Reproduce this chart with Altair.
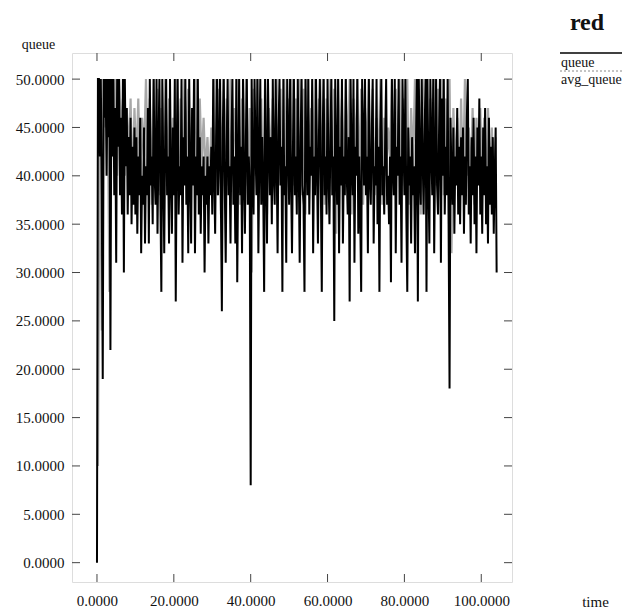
import altair as alt
import pandas as pd

# ---- data ----
# queue: one row per 5 time units, sampled every 0.25
queue_row_span = 5.0
queue_dt = 0.25
queue_rows = [
    [0, 50, 50, 42, 50, 38, 19, 50, 46, 50, 40, 50, 44, 50, 22, 50, 42, 50, 38, 47],
    [31, 50, 43, 50, 38, 46, 36, 50, 30, 50, 41, 47, 36, 44, 38, 46, 35, 43, 37, 45],
    [36, 44, 34, 42, 38, 46, 32, 40, 37, 45, 33, 41, 38, 47, 33, 50, 39, 42, 35, 50],
    [40, 37, 50, 34, 43, 50, 38, 28, 50, 41, 32, 44, 50, 38, 42, 33, 50, 40, 34, 45],
    [38, 50, 27, 43, 50, 36, 41, 38, 50, 31, 44, 39, 50, 37, 42, 32, 50, 40, 33, 47],
    [39, 50, 32, 42, 38, 50, 36, 44, 34, 41, 38, 42, 30, 40, 37, 42, 33, 41, 38, 43],
    [36, 50, 40, 34, 44, 50, 38, 42, 50, 37, 26, 45, 50, 39, 31, 43, 50, 38, 41, 33],
    [44, 50, 37, 42, 33, 50, 29, 41, 50, 38, 43, 32, 50, 40, 34, 44, 50, 37, 42, 39],
    [8, 50, 40, 36, 50, 43, 38, 50, 32, 42, 50, 37, 44, 39, 28, 50, 41, 33, 50, 43],
    [38, 44, 35, 50, 40, 37, 50, 42, 32, 45, 50, 39, 43, 28, 50, 38, 41, 31, 50, 44],
    [37, 50, 40, 32, 43, 50, 38, 42, 36, 50, 41, 31, 44, 50, 39, 37, 28, 50, 42, 38],
    [50, 36, 43, 40, 50, 32, 42, 38, 50, 41, 33, 44, 50, 39, 28, 45, 50, 38, 42, 36],
    [50, 40, 35, 44, 50, 38, 42, 25, 50, 41, 37, 50, 32, 43, 39, 50, 33, 42, 38, 50],
    [40, 36, 44, 27, 50, 41, 38, 50, 31, 43, 40, 50, 34, 42, 36, 28, 50, 44, 39, 50],
    [38, 42, 32, 50, 40, 37, 44, 50, 33, 41, 39, 50, 35, 43, 28, 45, 50, 38, 41, 36],
    [44, 50, 37, 40, 35, 42, 29, 50, 41, 38, 50, 32, 43, 40, 50, 37, 42, 31, 50, 44],
    [38, 50, 36, 28, 45, 39, 42, 33, 44, 38, 41, 32, 43, 50, 27, 50, 40, 37, 50, 42],
    [36, 44, 50, 28, 50, 40, 33, 50, 43, 38, 50, 32, 42, 50, 39, 36, 44, 50, 31, 48],
    [40, 50, 36, 43, 38, 50, 35, 18, 46, 40, 37, 45, 34, 42, 39, 47, 36, 43, 35, 44],
    [38, 45, 34, 42, 37, 46, 50, 36, 41, 33, 44, 38, 46, 35, 42, 32, 45, 39, 48, 36],
    [42, 34, 45, 38, 47, 35, 41, 33, 46, 37, 43, 36, 44, 34, 40, 45, 30],
]

# avg_queue: sampled every 0.5, starting at 0.25
avg_start = 0.25
avg_dt = 0.5
avg_values = [
    10, 50, 24, 50, 45, 50, 28, 50, 42, 50,
    40, 50, 44, 48, 40, 47, 42, 48, 38, 47,
    41, 48, 39, 46, 42, 50, 40, 48, 37, 50,
    41, 49, 38, 47, 43, 50, 39, 48, 42, 46,
    38, 50, 41, 48, 37, 50, 42, 49, 39, 47,
    42, 50, 38, 48, 41, 46, 40, 44, 39, 45,
    41, 50, 38, 49, 36, 50, 42, 48, 39, 50,
    40, 47, 42, 50, 37, 48, 41, 50, 39, 47,
    30, 49, 40, 50, 42, 48, 38, 50, 36, 47,
    41, 48, 39, 50, 42, 49, 38, 50, 40, 48,
    42, 50, 39, 48, 41, 50, 38, 49, 36, 50,
    41, 47, 42, 50, 39, 48, 41, 50, 37, 48,
    40, 50, 38, 49, 34, 50, 42, 48, 39, 50,
    41, 50, 36, 48, 42, 50, 39, 49, 37, 47,
    42, 50, 40, 49, 38, 46, 41, 50, 37, 46,
    40, 45, 42, 50, 38, 49, 41, 50, 39, 48,
    42, 50, 37, 47, 41, 50, 39, 49, 36, 50,
    41, 50, 37, 48, 42, 50, 39, 49, 41, 50,
    38, 48, 40, 50, 32, 47, 40, 46, 38, 48,
    39, 50, 40, 45, 39, 47, 37, 46, 40, 47,
    39, 46, 38, 47, 40, 45, 39, 44,
]

x_ticks = [0, 20, 40, 60, 80, 100]
y_ticks = [0, 5, 10, 15, 20, 25, 30, 35, 40, 45, 50]
series_names = ["queue", "avg_queue"]
title_text = "red"

# ---- tables ----
q_time, q_val = [], []
for r, row in enumerate(queue_rows):
    for j, v in enumerate(row):
        q_time.append(r * queue_row_span + j * queue_dt)
        q_val.append(v)
q_df = pd.DataFrame({"time": q_time, "value": q_val})
a_df = pd.DataFrame({"time": [avg_start + i * avg_dt for i in range(len(avg_values))],
                     "value": avg_values})
xt_df = pd.DataFrame({"t": x_ticks})
yt_df = pd.DataFrame({"v": y_ticks})
leg_df = pd.DataFrame({"name": series_names})

W, H = 440, 529
FONT = "Liberation Serif"

xscale = alt.Scale(domain=[-6.5, 108], nice=False, zero=False)
yscale = alt.Scale(domain=[-2, 52.7], nice=False, zero=False)

xaxis = alt.Axis(values=x_ticks, format=".4f", grid=False, ticks=False, domain=False,
                 labelFont=FONT, labelFontSize=15, labelColor="#111", labelPadding=11,
                 title="time", titleFont=FONT, titleFontSize=15, titleFontWeight="normal",
                 titleColor="#111", titleX=523, titleY=19, titleAlign="center",
                 titleBaseline="middle")
yaxis = alt.Axis(values=y_ticks, format=".4f", grid=False, ticks=False, domain=False,
                 labelFont=FONT, labelFontSize=15, labelColor="#111", labelPadding=8,
                 title="queue", titleFont=FONT, titleFontSize=14, titleFontWeight="normal",
                 titleColor="#111", titleAngle=0, titleX=-34, titleY=-9,
                 titleAlign="center", titleBaseline="middle")

avg_line = alt.Chart(a_df).mark_line(color="#a8a8a8", strokeWidth=2.2).encode(
    x=alt.X("time:Q", scale=xscale, axis=xaxis),
    y=alt.Y("value:Q", scale=yscale, axis=yaxis),
)
q_line = alt.Chart(q_df).mark_line(color="#000000", strokeWidth=2).encode(
    x=alt.X("time:Q", scale=xscale),
    y=alt.Y("value:Q", scale=yscale),
)

tick_style = dict(color="#444", strokeWidth=1)
yt_left = alt.Chart(yt_df).mark_rule(**tick_style).encode(
    y=alt.Y("v:Q", scale=yscale), x=alt.value(0), x2=alt.value(8))
yt_right = alt.Chart(yt_df).mark_rule(**tick_style).encode(
    y=alt.Y("v:Q", scale=yscale), x=alt.value(W - 8), x2=alt.value(W))
xt_top = alt.Chart(xt_df).mark_rule(**tick_style).encode(
    x=alt.X("t:Q", scale=xscale), y=alt.value(0), y2=alt.value(8))
xt_bot = alt.Chart(xt_df).mark_rule(**tick_style).encode(
    x=alt.X("t:Q", scale=xscale), y=alt.value(H - 8), y2=alt.value(H))

# legend (line above each name, as in the original)
leg_q_line = alt.Chart(leg_df.iloc[[0]]).mark_rule(color="#000", strokeWidth=1.5).encode(
    x=alt.value(488), x2=alt.value(550), y=alt.value(0))
leg_a_line = alt.Chart(leg_df.iloc[[1]]).mark_rule(color="#888", strokeWidth=1,
                                                    strokeDash=[2, 2]).encode(
    x=alt.value(488), x2=alt.value(550), y=alt.value(18))
leg_q_text = alt.Chart(leg_df.iloc[[0]]).mark_text(
    font=FONT, fontSize=14, align="left", baseline="middle", color="#111").encode(
    text="name:N", x=alt.value(489), y=alt.value(10))
leg_a_text = alt.Chart(leg_df.iloc[[1]]).mark_text(
    font=FONT, fontSize=14, align="left", baseline="middle", color="#111").encode(
    text="name:N", x=alt.value(489), y=alt.value(27))

title_mark = alt.Chart(pd.DataFrame({"t": [title_text]})).mark_text(
    font=FONT, fontSize=24, fontWeight="bold", align="center", baseline="middle",
    color="#111").encode(text="t:N", x=alt.value(515), y=alt.value(-30))

chart = alt.layer(
    avg_line, q_line, yt_left, yt_right, xt_top, xt_bot,
    leg_q_line, leg_a_line, leg_q_text, leg_a_text, title_mark,
).properties(
    width=W, height=H,
    autosize=alt.AutoSizeParams(type="none"),
    padding={"left": 64, "top": 45, "right": 110, "bottom": 30},
).configure_view(
    stroke="#444", strokeWidth=1, strokeDash=[2, 1],
).configure(background="white")

chart.save("out.html", embed_options={"renderer": "svg", "actions": False})
